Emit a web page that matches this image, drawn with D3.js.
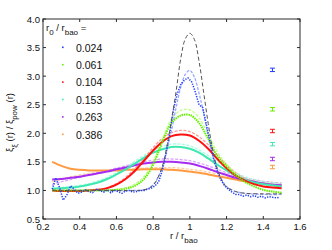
<!DOCTYPE html>
<html>
<head>
<meta charset="utf-8">
<script src="https://cdn.jsdelivr.net/npm/d3@7"></script>
<style>
  body { margin: 0; background: #fff; }
  svg { font-family: "Liberation Sans", Arial, sans-serif; }
</style>
</head>
<body>
<svg id="chart" width="332" height="250"></svg>
<script>
// ---- data ----
var R_GRID = [0.25, 0.30, 0.35, 0.40, 0.45, 0.50, 0.55, 0.60, 0.65, 0.70, 0.75, 0.80, 0.85,
              0.90, 0.95, 1.00, 1.05, 1.10, 1.15, 1.20, 1.25, 1.30, 1.35, 1.40, 1.45, 1.50];

var LABELS = ["0.024", "0.061", "0.104", "0.153", "0.263", "0.386"];
var COLORS = ["#1f3dff", "#66f000", "#ff1010", "#3ee8b0", "#a52cf0", "#ff9a40"];
var LIGHT_COLORS = ["#9aa8ff", "#c2ff8e", "#ff9a9a", "#a6ffe0", "#dba4ff", "#ffcfa4"];

var green_data = [1.00, 1.00, 1.00, 1.00, 1.00, 1.00, 1.00, 1.01, 1.03, 1.08, 1.20, 1.45, 1.85,
                  2.18, 2.31, 2.32, 2.18, 1.90, 1.60, 1.42, 1.27, 1.15, 1.07, 1.01, 0.98, 0.96];
var green_light = [1.00, 1.00, 1.00, 1.00, 1.00, 1.01, 1.01, 1.02, 1.05, 1.11, 1.24, 1.50, 1.90,
                   2.25, 2.40, 2.41, 2.27, 1.98, 1.67, 1.46, 1.30, 1.19, 1.11, 1.07, 1.05, 1.03];
var red_solid = [1.00, 0.99, 0.99, 0.99, 1.00, 1.01, 1.04, 1.10, 1.20, 1.34, 1.52, 1.70, 1.85,
                 1.95, 1.98, 1.96, 1.87, 1.73, 1.55, 1.39, 1.26, 1.17, 1.11, 1.07, 1.05, 1.04];
var red_light = [1.00, 1.00, 1.00, 1.00, 1.01, 1.02, 1.05, 1.12, 1.23, 1.38, 1.56, 1.75, 1.91,
                 2.01, 2.05, 2.03, 1.94, 1.80, 1.62, 1.45, 1.31, 1.21, 1.15, 1.11, 1.09, 1.08];
var cyan_solid = [1.03, 1.04, 1.05, 1.07, 1.10, 1.14, 1.20, 1.28, 1.37, 1.47, 1.57, 1.66, 1.72,
                  1.76, 1.76, 1.73, 1.66, 1.56, 1.45, 1.35, 1.26, 1.19, 1.14, 1.11, 1.09, 1.07];
var cyan_light = [1.04, 1.05, 1.07, 1.09, 1.12, 1.17, 1.23, 1.31, 1.40, 1.51, 1.61, 1.70, 1.77,
                  1.81, 1.81, 1.78, 1.71, 1.61, 1.50, 1.40, 1.31, 1.24, 1.19, 1.15, 1.13, 1.11];
var purple_solid = [1.19, 1.20, 1.22, 1.24, 1.27, 1.30, 1.33, 1.37, 1.40, 1.44, 1.47, 1.49, 1.50,
                    1.50, 1.49, 1.47, 1.43, 1.38, 1.32, 1.27, 1.22, 1.18, 1.15, 1.12, 1.10, 1.09];
var purple_light = [1.10, 1.15, 1.19, 1.23, 1.27, 1.31, 1.35, 1.39, 1.43, 1.47, 1.50, 1.53, 1.55,
                    1.55, 1.54, 1.52, 1.48, 1.43, 1.37, 1.31, 1.26, 1.22, 1.19, 1.16, 1.14, 1.13];
var orange_solid = [1.50, 1.43, 1.38, 1.36, 1.35, 1.35, 1.35, 1.35, 1.36, 1.36, 1.37, 1.37, 1.37,
                    1.36, 1.35, 1.33, 1.31, 1.28, 1.25, 1.22, 1.19, 1.16, 1.14, 1.12, 1.10, 1.08];
var orange_light = [1.15, 1.20, 1.24, 1.27, 1.30, 1.32, 1.34, 1.36, 1.37, 1.38, 1.39, 1.40, 1.40,
                    1.40, 1.39, 1.37, 1.35, 1.32, 1.29, 1.26, 1.23, 1.20, 1.18, 1.16, 1.14, 1.12];

// blue simulation points (noisy)
var BLUE_R = [0.25, 0.27, 0.29, 0.31, 0.33, 0.35, 0.37, 0.39, 0.41, 0.43, 0.45, 0.47, 0.49, 0.51,
              0.53, 0.55, 0.57, 0.59, 0.61, 0.63, 0.65, 0.67, 0.69, 0.71, 0.73, 0.75, 0.77, 0.79,
              0.81, 0.83, 0.85, 0.87, 0.89, 0.91, 0.93, 0.95, 0.97, 0.99, 1.01, 1.03, 1.05, 1.07,
              1.09, 1.11, 1.13, 1.15, 1.17, 1.19, 1.21, 1.23, 1.25, 1.27, 1.29, 1.31, 1.33, 1.35,
              1.37, 1.39, 1.41, 1.43, 1.45, 1.47, 1.49];
var blue_data = [1.02, 1.22, 1.05, 0.83, 0.92, 1.08, 1.02, 0.95, 0.97, 1.01, 0.98, 0.96, 1.02, 1.00,
                 0.97, 1.01, 0.96, 1.00, 0.98, 0.95, 0.99, 1.00, 0.97, 0.98, 1.00, 1.00, 1.02, 1.04,
                 1.08, 1.15, 1.35, 1.65, 2.00, 2.40, 2.68, 2.85, 2.93, 2.97, 2.90, 2.72, 2.50, 2.45,
                 2.15, 1.85, 1.55, 1.33, 1.18, 1.08, 1.02, 0.97, 0.93, 0.93, 0.90, 0.92, 0.89, 0.91,
                 0.88, 0.90, 0.87, 0.89, 0.88, 0.87, 0.88];

// narrow peaked curves on a finer grid
var PEAK_R = [0.25, 0.50, 0.70, 0.75, 0.80, 0.85, 0.875, 0.90, 0.925, 0.95, 0.975, 1.00, 1.025,
              1.05, 1.075, 1.10, 1.125, 1.15, 1.175, 1.20, 1.25, 1.30, 1.40, 1.50];
var blue_light = [1.00, 1.00, 1.00, 1.01, 1.10, 1.40, 1.70, 2.05, 2.45, 2.80, 3.03, 3.10, 2.98,
                  2.70, 2.35, 1.95, 1.60, 1.35, 1.18, 1.07, 0.98, 0.95, 0.93, 0.93];
var linear_dashed = [1.00, 1.00, 1.00, 1.01, 1.09, 1.42, 1.77, 2.23, 2.73, 3.30, 3.65, 3.75, 3.64,
                     3.26, 2.72, 2.17, 1.70, 1.38, 1.17, 1.06, 0.98, 0.95, 0.94, 0.94];

// error bars
var ERR_R = 1.45;
var err_y = [3.11, 2.42, 2.04, 1.81, 1.55, 1.41];
var err_size = [0.03, 0.03, 0.03, 0.03, 0.03, 0.03];

var X_TICKS = [0.2, 0.4, 0.6, 0.8, 1.0, 1.2, 1.4, 1.6];
var Y_TICKS = [0.5, 1.0, 1.5, 2.0, 2.5, 3.0, 3.5, 4.0];

// ---- layout ----
var LEFT = 43, RIGHT = 300, TOP = 19, BOTTOM = 219;
var AXIS_COLOR = "#2b2b2b";

var svg = d3.select("#chart");
var xScale = d3.scaleLinear().domain([0.2, 1.6]).range([LEFT, RIGHT]);
var yScale = d3.scaleLinear().domain([0.5, 4.0]).range([BOTTOM, TOP]);

function lineFor(xs) {
    return d3.line()
        .x((d, i) => xScale(xs[i]))
        .y(d => yScale(d))
        .curve(d3.curveCatmullRom);
}

var plot = svg.append("g");

// light dashed curves
var lights = [blue_light, green_light, red_light, cyan_light, purple_light, orange_light];
for (var k = 5; k >= 0; k--) {
    var xs = (k == 0) ? PEAK_R : R_GRID;
    plot.append("path")
        .attr("d", lineFor(xs)(lights[k]))
        .attr("fill", "none")
        .attr("stroke", LIGHT_COLORS[k])
        .attr("stroke-width", 1.3)
        .attr("stroke-dasharray", "3,1.5");
}

// thick model curves
var solids = [[orange_solid, 5], [purple_solid, 4], [cyan_solid, 3], [red_solid, 2]];
solids.forEach(function (s) {
    plot.append("path")
        .attr("d", lineFor(R_GRID)(s[0]))
        .attr("fill", "none")
        .attr("stroke", COLORS[s[1]])
        .attr("stroke-width", 2);
});

// green points
plot.append("path")
    .attr("d", lineFor(R_GRID)(green_data))
    .attr("fill", "none")
    .attr("stroke", COLORS[1])
    .attr("stroke-width", 2)
    .attr("stroke-dasharray", "1.5,0.8");

// blue points
plot.append("path")
    .attr("d", d3.line().x((d, i) => xScale(BLUE_R[i])).y(d => yScale(d))(blue_data))
    .attr("fill", "none")
    .attr("stroke", COLORS[0])
    .attr("stroke-width", 1.5)
    .attr("stroke-dasharray", "1.3,1.3");

// linear theory dashed
plot.append("path")
    .attr("d", lineFor(PEAK_R)(linear_dashed))
    .attr("fill", "none")
    .attr("stroke", "#555")
    .attr("stroke-width", 1)
    .attr("stroke-dasharray", "4,2.5");

// error bars
err_y.forEach(function (v, i) {
    var cx = xScale(ERR_R);
    var y1 = yScale(v + err_size[i]), y2 = yScale(v - err_size[i]);
    var g = plot.append("g").attr("stroke", COLORS[i]).attr("stroke-width", 1);
    g.append("line").attr("x1", cx).attr("x2", cx).attr("y1", y1).attr("y2", y2);
    g.append("line").attr("x1", cx - 2.5).attr("x2", cx + 2.5).attr("y1", y1).attr("y2", y1);
    g.append("line").attr("x1", cx - 2.5).attr("x2", cx + 2.5).attr("y1", y2).attr("y2", y2);
});

// ---- axes box ----
svg.append("rect")
    .attr("x", LEFT).attr("y", TOP)
    .attr("width", RIGHT - LEFT).attr("height", BOTTOM - TOP)
    .attr("fill", "none").attr("stroke", AXIS_COLOR).attr("stroke-width", 1);

var TICK = 3;
X_TICKS.forEach(function (t) {
    var x = xScale(t);
    svg.append("line").attr("x1", x).attr("x2", x).attr("y1", BOTTOM).attr("y2", BOTTOM - TICK)
        .attr("stroke", AXIS_COLOR);
    svg.append("line").attr("x1", x).attr("x2", x).attr("y1", TOP).attr("y2", TOP + TICK)
        .attr("stroke", AXIS_COLOR);
    svg.append("text")
        .attr("x", x).attr("y", BOTTOM + 11)
        .attr("text-anchor", "middle")
        .attr("font-size", 9.5)
        .attr("fill", "#111")
        .text(t == 1 ? "1" : d3.format(".1f")(t));
});
Y_TICKS.forEach(function (t) {
    var y = yScale(t);
    svg.append("line").attr("x1", LEFT).attr("x2", LEFT + TICK).attr("y1", y).attr("y2", y)
        .attr("stroke", AXIS_COLOR);
    svg.append("line").attr("x1", RIGHT).attr("x2", RIGHT - TICK).attr("y1", y).attr("y2", y)
        .attr("stroke", AXIS_COLOR);
    svg.append("text")
        .attr("x", LEFT - 3).attr("y", y + 3.5)
        .attr("text-anchor", "end")
        .attr("font-size", 9.5)
        .attr("fill", "#111")
        .text(d3.format(".1f")(t));
});

// axis labels
var xl = svg.append("text")
    .attr("x", 170).attr("y", 239)
    .attr("font-size", 9.5)
    .attr("fill", "#111");
xl.append("tspan").text("r / r");
xl.append("tspan").attr("dy", 3.5).attr("font-size", 8).text("bao");

var yl = svg.append("text")
    .attr("transform", "translate(13,152) rotate(-90)")
    .attr("font-size", 9.5)
    .attr("fill", "#111");
yl.append("tspan").text("ξ");
yl.append("tspan").attr("dy", 3.5).attr("font-size", 8).text("ξ");
yl.append("tspan").attr("dy", -3.5).text(" (r) / ξ");
yl.append("tspan").attr("dy", 3.5).attr("font-size", 8).text("pow");
yl.append("tspan").attr("dy", -3.5).text(" (r)");

// ---- legend ----
var lt = svg.append("text")
    .attr("x", 46).attr("y", 31)
    .attr("font-size", 9.5)
    .attr("fill", "#111");
lt.append("tspan").text("r");
lt.append("tspan").attr("dy", 3.5).attr("font-size", 8).text("0");
lt.append("tspan").attr("dy", -3.5).text(" / r");
lt.append("tspan").attr("dy", 3.5).attr("font-size", 8).text("bao");
lt.append("tspan").attr("dy", -3.5).text(" =");

var LEG_Y0 = 47.5, LEG_DY = 17.4;
LABELS.forEach(function (lab, i) {
    var y = LEG_Y0 + i * LEG_DY;
    svg.append("rect")
        .attr("x", 62).attr("y", y - 1)
        .attr("width", 1.6).attr("height", 1.6)
        .attr("fill", COLORS[i]);
    svg.append("text")
        .attr("x", 76).attr("y", y + 4)
        .attr("font-size", 10.5)
        .attr("fill", "#111")
        .text(lab);
});
</script>
</body>
</html>
